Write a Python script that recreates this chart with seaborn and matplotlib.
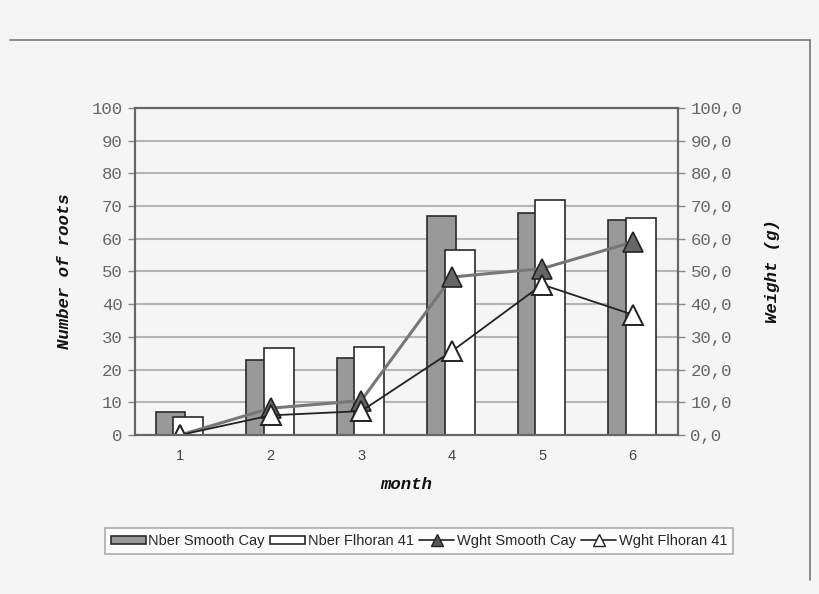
import numpy as np
import pandas as pd
import matplotlib
matplotlib.use("Agg")
import matplotlib.pyplot as plt
import seaborn as sns
from matplotlib.patches import Patch
from matplotlib.lines import Line2D

# data
months = [1, 2, 3, 4, 5, 6]
nber_smooth_cay = [6.9, 23.0, 23.5, 66.9, 67.8, 65.6]
nber_flhoran = [5.6, 26.6, 26.9, 56.6, 71.8, 66.3]
wght_smooth_cay = [0.0, 8.2, 10.5, 48.3, 50.9, 59.0]
wght_flhoran = [0.0, 6.0, 7.3, 25.6, 46.0, 36.8]
left_ticks = list(range(0, 101, 10))
right_labels = [f"{v},0" for v in left_ticks]

bg = "#f5f5f5"
sns.set_theme(style="white")
plt.rcParams["font.family"] = ["Liberation Sans", "DejaVu Sans"]

fig = plt.figure(figsize=(8.2, 5.94), dpi=100, facecolor=bg)
ax = fig.add_axes([0.1646, 0.2677, 0.6622, 0.5505])
ax.set_facecolor(bg)

df = pd.DataFrame({
    "month": months,
    "smooth": nber_smooth_cay,
    "flhoran": nber_flhoran,
    "w_smooth": wght_smooth_cay,
    "w_flhoran": wght_flhoran,
})

# overlapping bars (Excel style)
sns.barplot(x=df["month"] - 0.11, y=df["smooth"], native_scale=True, width=0.32,
            color="#999999", edgecolor="#2a2a2a", linewidth=1.2, saturation=1, ax=ax)
sns.barplot(x=df["month"] + 0.09, y=df["flhoran"], native_scale=True, width=0.33,
            color="white", edgecolor="#2a2a2a", linewidth=1.2, saturation=1, ax=ax)

ax.set_xlim(0.5, 6.5)
ax.set_ylim(0, 100)
ax.set_yticks(left_ticks)
ax.set_xticks(months)
ax.set_xticklabels([str(m) for m in months])
ax.set_xticks([1.5, 2.5, 3.5, 4.5, 5.5], minor=True)
ax.yaxis.grid(True, color="#b5b5b5", linewidth=1.5)
ax.set_axisbelow(True)
ax.tick_params(axis="x", which="major", length=0, pad=10, labelsize=10.5, labelcolor="#444")
ax.tick_params(axis="x", which="minor", length=5, width=1, color="#888", direction="out")
ax.tick_params(axis="y", length=5, width=1, color="#888", direction="out", pad=4,
               labelsize=12.5, labelcolor="#666")
for lab in ax.get_yticklabels():
    lab.set_fontfamily("Liberation Mono")
for sp in ax.spines.values():
    sp.set_color("#666")
    sp.set_linewidth(1.5)

ax.set_xlabel("month", fontfamily="Liberation Mono", fontweight="bold", fontstyle="italic",
              fontsize=12.5, labelpad=10, color="#111")
ax.set_ylabel("Number of roots", fontfamily="Liberation Mono", fontweight="bold",
              fontstyle="italic", fontsize=12.5, labelpad=14, color="#111")

ax2 = ax.twinx()
ax2.set_ylim(0, 100)
sns.lineplot(x=df["month"], y=df["w_smooth"], ax=ax2, color="#777777", linewidth=2.2,
             marker="^", markersize=14, markerfacecolor="#666666",
             markeredgecolor="#222222", markeredgewidth=1.2)
sns.lineplot(x=df["month"], y=df["w_flhoran"], ax=ax2, color="#222222", linewidth=1.3,
             marker="^", markersize=14, markerfacecolor="white",
             markeredgecolor="#222222", markeredgewidth=1.4)
ax2.set_yticks(left_ticks)
ax2.set_yticklabels(right_labels)
ax2.tick_params(axis="y", length=5, width=1, color="#888", direction="out", pad=4,
                labelsize=12.5, labelcolor="#666")
for lab in ax2.get_yticklabels():
    lab.set_fontfamily("Liberation Mono")
for sp in ax2.spines.values():
    sp.set_color("#666")
    sp.set_linewidth(1.5)
ax2.set_ylabel("Weight (g)", fontfamily="Liberation Mono", fontweight="bold",
               fontstyle="italic", fontsize=12.5, labelpad=16, color="#111")
ax2.set_xlim(0.5, 6.5)

handles = [
    Patch(facecolor="#999999", edgecolor="#2a2a2a", linewidth=1.2),
    Patch(facecolor="white", edgecolor="#2a2a2a", linewidth=1.2),
    Line2D([], [], color="#333", linewidth=1.3, marker="^", markersize=8,
           markerfacecolor="#555", markeredgecolor="#222"),
    Line2D([], [], color="#333", linewidth=1.3, marker="^", markersize=8,
           markerfacecolor="white", markeredgecolor="#222"),
]
labels = ["Nber Smooth Cay", "Nber Flhoran 41", "Wght Smooth Cay", "Wght Flhoran 41"]
leg = fig.legend(handles, labels, loc="center", bbox_to_anchor=(0.511, 0.089), ncol=4,
                 frameon=True, fancybox=False, edgecolor="#999", facecolor="white",
                 fontsize=10.5, handlelength=2.4, handleheight=0.5, handletextpad=0.15,
                 columnspacing=0.4, borderpad=0.4, borderaxespad=0.2)
leg.get_frame().set_linewidth(1.2)

# outer frame lines
y_top = 1 - 40 / 594
fig.add_artist(Line2D([10 / 820, 810 / 820], [y_top, y_top], color="#777", linewidth=1.2,
                      transform=fig.transFigure))
fig.add_artist(Line2D([810 / 820, 810 / 820], [y_top, 1 - 580 / 594], color="#777",
                      linewidth=1.2, transform=fig.transFigure))

fig.savefig("out.png", dpi=100, facecolor=bg)
